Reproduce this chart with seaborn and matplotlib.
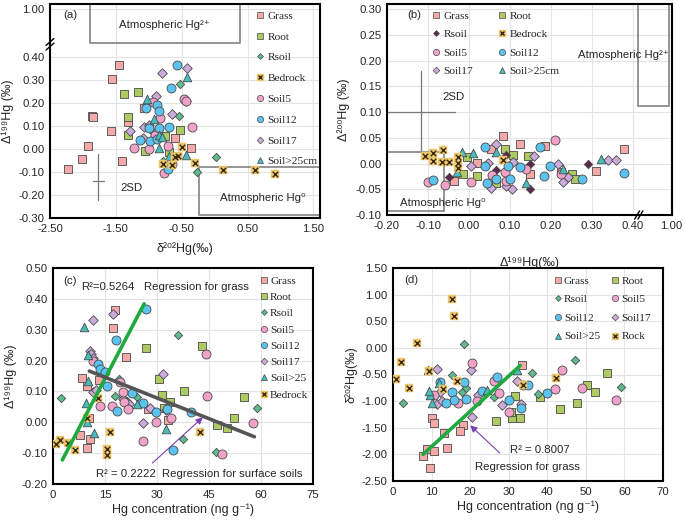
import numpy as np
import pandas as pd
import matplotlib
matplotlib.use("Agg")
import matplotlib.pyplot as plt
import seaborn as sns
from matplotlib.lines import Line2D

# ---------------- data ----------------
# Panel (a): delta202Hg (x) vs Delta199Hg (y)
a_grass_x = [-1.445, -1.555, -1.857, -1.84, -1.58, -1.31, -1.078, -1.92, -2.01, -2.23, -1.40, -0.60, -0.36]
a_grass_y = [0.367, 0.304, 0.143, 0.137, 0.079, 0.117, 0.179, 0.014, -0.043, -0.086, -0.054, 0.046, 0.003]
a_root_x = [-1.37, -1.158, -1.32, -1.314, -1.063, -0.525, -0.75, -0.70]
a_root_y = [0.241, 0.249, 0.139, 0.060, -0.010, 0.081, 0.057, -0.014]
a_rsoil_x = [-0.525, -0.545, -0.79, 0.023, -0.264, -0.95, -0.86]
a_rsoil_y = [0.283, 0.143, -0.054, -0.033, -0.099, 0.080, 0.070]
a_soil5_x = [-0.465, -0.34, -1.22, -0.99, -0.776, -0.64, -0.71, -0.83, -0.93, -0.90, -0.44]
a_soil5_y = [0.219, 0.096, 0.003, -0.001, -0.103, -0.064, 0.014, 0.133, 0.203, 0.060, 0.210]
a_soil12_x = [-0.575, -0.66, -0.88, -0.85, -1.04, -0.84, -0.70, -0.98, -1.13, -0.88, -0.71, -0.99]
a_soil12_y = [0.367, 0.267, 0.189, 0.164, 0.176, 0.090, 0.094, 0.033, 0.040, 0.043, -0.089, 0.089]
a_soil17_x = [-0.425, -0.80, -0.887, -0.435, -0.65, -1.29, -1.08, -1.09, -1.00]
a_soil17_y = [0.350, 0.329, 0.229, 0.210, 0.154, 0.079, 0.097, 0.046, 0.103]
a_soil25_x = [-0.425, -1.03, -0.92, -0.85, -0.80, -0.84, -0.69, -0.43]
a_soil25_y = [0.311, 0.217, 0.131, 0.060, 0.054, 0.006, -0.031, -0.026]
a_bed_x = [-0.49, -0.60, -0.79, -0.294, 0.12, 0.62, 0.92, -0.55, -0.64]
a_bed_y = [0.010, -0.033, -0.067, -0.060, -0.092, -0.090, -0.110, -0.031, -0.071]

# Panel (b): Delta199Hg (x) vs Delta200Hg (y)
b_grass_x = [0.083, 0.124, 0.053, 0.186, 0.019, -0.036, 0.148, 0.31, 0.377, 0.225]
b_grass_y = [0.054, 0.038, 0.029, 0.035, 0.002, -0.033, -0.020, -0.014, 0.028, -0.016]
b_root_x = [0.087, 0.108, 0.144, -0.004, -0.014, 0.019, 0.067, 0.25, 0.258]
b_root_y = [0.029, 0.017, 0.015, 0.012, -0.020, -0.025, -0.037, -0.020, -0.030]
b_rsoil_x = [-0.05, 0.089, 0.148, 0.148, 0.29, 0.067]
b_rsoil_y = [-0.027, 0.017, -0.001, -0.050, -0.001, -0.012]
b_bed_x = [-0.108, -0.087, -0.064, -0.087, -0.066, -0.05, -0.028, -0.028, -0.026, 0.083]
b_bed_y = [0.0156, 0.020, 0.027, 0.004, 0.003, 0.003, 0.012, 0.002, -0.008, 0.006]
b_soil5_x = [-0.10, -0.058, 0.006, 0.057, 0.09, 0.209, 0.225, 0.138, 0.087]
b_soil5_y = [-0.035, -0.041, -0.035, -0.022, -0.034, 0.045, -0.020, -0.010, -0.016]
b_soil12_x = [-0.087, 0.039, 0.039, 0.043, 0.067, 0.10, 0.124, 0.172, 0.198, 0.183, 0.275, 0.377, 0.096]
b_soil12_y = [-0.032, 0.033, -0.005, -0.038, -0.030, -0.030, -0.006, 0.033, -0.004, -0.024, -0.030, -0.019, -0.005]
b_soil17_x = [0.067, 0.108, 0.159, 0.217, 0.229, 0.241, 0.339, 0.359, 0.053, 0.104, 0.091, 0.006, 0.047]
b_soil17_y = [0.038, 0.003, 0.015, -0.001, -0.035, -0.027, 0.006, 0.007, -0.048, -0.050, -0.043, -0.005, 0.002]
b_soil25_x = [-0.018, 0.010, -0.030, 0.067, 0.14, 0.23, 0.322]
b_soil25_y = [0.023, 0.020, -0.016, 0.023, -0.037, -0.011, 0.008]

# Panel (c): Hg concentration (x) vs Delta199Hg (y)
c_grass_x = [17.9, 17.2, 8.5, 9.9, 13.4, 21.1, 10.5, 7.7, 10.6, 9.9, 27.4, 33.2]
c_grass_y = [0.365, 0.304, 0.142, 0.118, 0.137, 0.210, 0.013, -0.041, -0.054, -0.084, 0.043, 0.008]
c_root_x = [26.7, 43.1, 30.7, 31.3, 37.8, 33.7, 55.2, 52.3, 50.3, 47.4, 31.9]
c_root_y = [0.241, 0.248, 0.140, 0.088, 0.101, 0.067, 0.083, 0.015, -0.017, -0.009, 0.047]
c_rsoil_x = [2.4, 36.0, 18.9, 17.9, 21.3, 24.2, 37.6, 47.0, 58.9, 20.3]
c_rsoil_y = [0.080, 0.282, 0.140, 0.085, 0.069, 0.083, -0.054, -0.095, 0.045, 0.078]
c_soil5_x = [44.0, 19.4, 20.5, 13.7, 16.9, 21.6, 20.3, 26.1, 29.8, 33.9, 44.5, 48.8, 57.8, 11.6]
c_soil5_y = [0.220, 0.132, 0.067, 0.054, 0.054, 0.043, 0.097, -0.062, 0.002, 0.013, 0.086, -0.103, -0.001, 0.198]
c_soil12_x = [26.8, 18.2, 13.1, 13.6, 15.1, 15.7, 18.6, 22.9, 26.1, 29.8, 32.9, 39.7, 34.7]
c_soil12_y = [0.366, 0.266, 0.188, 0.174, 0.164, 0.117, 0.038, 0.096, 0.062, 0.032, 0.043, 0.034, -0.089]
c_soil17_x = [11.6, 17.4, 10.6, 11.1, 11.4, 11.4, 12.3, 20.1, 21.8, 31.8, 25.9, 28.1, 32.6]
c_soil17_y = [0.330, 0.350, 0.230, 0.222, 0.207, 0.097, 0.104, 0.075, 0.059, 0.155, -0.003, 0.045, 0.040]
c_soil25_x = [8.9, 10.1, 10.1, 9.5, 9.9, 11.8, 24.2, 32.5]
c_soil25_y = [0.309, 0.218, 0.134, 0.064, 0.002, -0.036, 0.059, -0.022]
c_bed_x = [0.8, 1.9, 4.4, 6.3, 9.7, 13.1, 16.5, 15.7, 15.5, 42.4]
c_bed_y = [-0.071, -0.057, -0.068, -0.089, 0.013, 0.080, -0.032, -0.087, -0.106, -0.032]
c_reg_grass_x = [2.7, 26.3]
c_reg_grass_y = [-0.122, 0.384]
c_reg_soil_x = [10.5, 58.1]
c_reg_soil_y = [0.166, -0.047]

# Panel (d): Hg concentration (x) vs delta202Hg (y)
d_grass_x = [33.5, 18.2, 17.3, 13.3, 13.9, 8.7, 10.6, 7.8, 9.7, 10.1, 10.7]
d_grass_y = [-0.325, -1.44, -1.56, -1.59, -1.875, -1.89, -1.93, -2.03, -2.26, -1.31, -1.41]
d_root_x = [26.7, 30.8, 32.8, 31.5, 38.1, 43.3, 47.7, 50.4, 52.4, 55.5, 30.5]
d_root_y = [-1.37, -1.31, -1.31, -0.90, -0.92, -1.15, -1.04, -0.70, -0.825, -0.48, -1.20]
d_rsoil_x = [2.6, 18.5, 15.3, 26.3, 36.1, 37.7, 47.2, 59.0, 18.0, 18.9]
d_rsoil_y = [-1.03, 0.08, -0.50, -0.92, -0.48, -0.86, -0.22, -0.73, -0.825, -0.76]
d_soil5_x = [20.6, 43.8, 49.1, 57.9, 42.0, 26.2, 27.5, 30.2, 21.7, 16.8, 33.6, 10.7]
d_soil5_y = [-0.275, -0.42, -0.75, -0.98, -0.78, -0.625, -0.84, -1.20, -0.99, -1.03, -0.69, -0.89]
d_soil12_x = [18.4, 26.9, 35.1, 39.9, 30.2, 33.1, 15.2, 15.9, 18.9, 13.7, 23.2, 12.1]
d_soil12_y = [-0.64, -0.54, -0.69, -0.84, -0.97, -1.12, -0.825, -0.97, -0.96, -1.03, -0.81, -0.64]
d_soil17_x = [11.5, 20.2, 20.4, 32.1, 28.3, 33.2, 11.5, 12.6, 12.1, 22.1]
d_soil17_y = [-0.40, -0.41, -1.29, -0.625, -1.075, -1.06, -1.06, -0.99, -0.825, -0.89]
d_soil25_x = [9.1, 9.5, 10.0, 12.0, 24.3, 32.1, 9.4]
d_soil25_y = [-0.42, -0.89, -1.03, -0.66, -0.79, -0.42, -0.81]
d_rock_x = [15.4, 15.9, 6.3, 2.0, 0.7, 4.2, 9.4, 16.5, 13.0, 42.3, 33.6]
d_rock_y = [0.91, 0.60, 0.10, -0.26, -0.59, -0.76, -0.44, -0.625, -0.78, -0.56, -0.70]
d_reg_x = [7.8, 33.0]
d_reg_y = [-2.0, -0.33]

# ---------------- style ----------------
sns.set_style("white")
plt.rcParams['font.family'] = ['Liberation Sans', 'DejaVu Sans']
plt.rcParams['axes.linewidth'] = 1.5
plt.rcParams['xtick.labelsize'] = 8.2
plt.rcParams['ytick.labelsize'] = 8.2

C = dict(grass='#F4A9A8', root='#AECB63', rsoil='#5DBB8E', rsoil_b='#5A2A4E',
         bed='#EDC56A', soil5='#F2A1C8', soil12='#5BC3EF', soil17='#CDABDD', soil25='#47BDBE')
EDGE = '#4a4a4a'
MK = dict(grass=('s', 30), root=('s', 30), rsoil=('D', 18), soil5=('o', 42),
          soil12=('o', 42), soil17=('D', 24), soil25=('^', 38))
LBL = 9
TXT = 8.2

W, H = 685, 521
fig = plt.figure(figsize=(W / 100, H / 100), dpi=100)


def axes_px(l, t, r, b):
    return fig.add_axes([l / W, 1 - b / H, (r - l) / W, (b - t) / H])


def pts(ax, x, y, key, color=None):
    m, s = MK[key]
    sns.scatterplot(x=x, y=y, marker=m, s=s, color=color or C[key], edgecolor=EDGE,
                    linewidth=0.6, ax=ax, legend=False, zorder=3)


def bed(ax, x, y):
    sns.scatterplot(x=x, y=y, marker='s', s=32, color=C['bed'], edgecolor=C['bed'],
                    linewidth=0.3, ax=ax, legend=False, zorder=3)
    sns.scatterplot(x=x, y=y, marker='x', s=16, color='#3a2a10', linewidth=1.0,
                    ax=ax, legend=False, zorder=4)


def handle(key, color=None):
    m, s = MK[key]
    return Line2D([], [], ls='', marker=m, markersize=np.sqrt(s) * 0.7,
                  markerfacecolor=color or C[key], markeredgecolor=EDGE, markeredgewidth=0.5)


def bed_handle():
    h1 = Line2D([], [], ls='', marker='s', markersize=4.5, markerfacecolor=C['bed'], markeredgecolor=C['bed'])
    h2 = Line2D([], [], ls='', marker='x', markersize=3.5, markeredgecolor='#3a2a10', markeredgewidth=1.0)
    return (h1, h2)


def style_ax(ax):
    ax.grid(True, color='#e4e4e4', linewidth=0.8)
    ax.set_axisbelow(True)
    for s in ax.spines.values():
        s.set_color('black')
        s.set_linewidth(1.5)
    ax.tick_params(length=0, pad=4)


LFONT = dict(family='Liberation Serif', size=8.2)
BOXC = '#8c8c8c'

# ---------------- panel (a) ----------------
ax = axes_px(50, 4, 320, 218)
style_ax(ax)
pts(ax, a_grass_x, a_grass_y, 'grass')
pts(ax, a_root_x, a_root_y, 'root')
pts(ax, a_rsoil_x, a_rsoil_y, 'rsoil')
pts(ax, a_soil17_x, a_soil17_y, 'soil17')
pts(ax, a_soil5_x, a_soil5_y, 'soil5')
pts(ax, a_soil12_x, a_soil12_y, 'soil12')
pts(ax, a_soil25_x, a_soil25_y, 'soil25')
bed(ax, a_bed_x, a_bed_y)
ax.set_xlim(-2.5, 1.6)
ax.set_ylim(-0.30, 0.63)
ax.set_xticks([-2.5, -1.5, -0.5, 0.5, 1.5])
ax.set_xticklabels(['-2.50', '-1.50', '-0.50', '0.50', '1.50'])
yt = [-0.3, -0.2, -0.1, 0.0, 0.1, 0.2, 0.3, 0.4, 0.607]
ax.set_yticks(yt)
ax.set_yticklabels(['-0.30', '-0.20', '-0.10', '0.00', '0.10', '0.20', '0.30', '0.40', '1.00'])
ax.set_xlabel('δ²⁰²Hg(‰)', fontsize=LBL, labelpad=6)
ax.set_ylabel('Δ¹⁹⁹Hg (‰)', fontsize=LBL, labelpad=3)
ax.plot([-1.9, -1.9, 0.38, 0.38], [0.66, 0.46, 0.46, 0.66], color=BOXC, lw=1.3, clip_on=True)
ax.text(-0.76, 0.537, 'Atmospheric Hg²⁺', ha='center', va='center', fontsize=TXT)
ax.plot([1.6, -0.24, -0.24, 1.6], [-0.077, -0.077, -0.288, -0.288], color=BOXC, lw=1.3)
ax.text(0.73, -0.215, 'Atmospheric Hg⁰', ha='center', va='center', fontsize=TXT)
ax.plot([-1.77, -1.77], [-0.02, -0.22], color='#777777', lw=0.9)
ax.plot([-1.85, -1.68], [-0.14, -0.14], color='#777777', lw=0.9)
ax.text(-1.26, -0.17, '2SD', ha='center', va='center', fontsize=TXT)
ax.text(0.05, 0.97, '(a)', transform=ax.transAxes, ha='left', va='top', fontsize=TXT)
for dy in (0.0, 0.02):
    ax.plot([-2.56, -2.44], [0.43 + dy, 0.46 + dy], color='black', lw=1.0, clip_on=False)
hs = [handle('grass'), handle('root'), handle('rsoil'), bed_handle(), handle('soil5'),
      handle('soil12'), handle('soil17'), handle('soil25')]
labs = ['Grass', 'Root', 'Rsoil', 'Bedrock', 'Soil5', 'Soil12', 'Soil17', 'Soil>25cm']
ax.legend(hs, labs, loc='upper left', bbox_to_anchor=(0.735, 1.005), frameon=False,
          prop=LFONT, handlelength=0.7, handletextpad=0.25, labelspacing=0.95, borderpad=0.2)

# ---------------- panel (b) ----------------
ax = axes_px(387, 4, 672, 215)
style_ax(ax)
pts(ax, b_grass_x, b_grass_y, 'grass')
pts(ax, b_root_x, b_root_y, 'root')
pts(ax, b_rsoil_x, b_rsoil_y, 'rsoil', color=C['rsoil_b'])
pts(ax, b_soil17_x, b_soil17_y, 'soil17')
pts(ax, b_soil5_x, b_soil5_y, 'soil5')
pts(ax, b_soil12_x, b_soil12_y, 'soil12')
pts(ax, b_soil25_x, b_soil25_y, 'soil25')
bed(ax, b_bed_x, b_bed_y)
ax.set_xlim(-0.2, 0.495)
ax.set_ylim(-0.10, 0.31)
ax.set_xticks([-0.2, -0.1, 0.0, 0.1, 0.2, 0.3, 0.4, 0.492])
ax.set_xticklabels(['-0.20', '-0.10', '0.00', '0.10', '0.20', '0.30', '0.40', '1.00'])
ax.set_yticks([-0.1, -0.05, 0, 0.05, 0.1, 0.15, 0.2, 0.25, 0.3])
ax.set_yticklabels(['-0.10', '-0.05', '0.00', '0.05', '0.10', '0.15', '0.20', '0.25', '0.30'])
ax.set_xlabel('Δ¹⁹⁹Hg(‰)', fontsize=LBL, labelpad=19)
ax.set_ylabel('Δ²⁰⁰Hg (‰)', fontsize=LBL, labelpad=4)
ax.plot([0.412, 0.412, 0.488, 0.488, 0.412], [0.32, 0.111, 0.111, 0.32, 0.32], color=BOXC, lw=1.3)
ax.text(0.487, 0.211, 'Atmospheric Hg²⁺', ha='right', va='center', fontsize=TXT)
ax.plot([-0.2, -0.062, -0.062], [0.022, 0.022, -0.093], color=BOXC, lw=1.3)
ax.plot([-0.2, -0.062], [-0.093, -0.093], color=BOXC, lw=1.3)
ax.text(-0.168, -0.077, 'Atmospheric Hg⁰', ha='left', va='center', fontsize=TXT)
ax.plot([-0.117, -0.117], [0.18, 0.022], color='#777777', lw=0.9)
ax.plot([-0.2, -0.034], [0.10, 0.10], color='#777777', lw=0.9)
ax.text(-0.038, 0.13, '2SD', ha='center', va='center', fontsize=TXT)
ax.text(0.07, 0.97, '(b)', transform=ax.transAxes, ha='left', va='top', fontsize=TXT)
for dx in (0.0, 0.008):
    ax.plot([0.404 + dx, 0.416 + dx], [-0.108, -0.092], color='black', lw=1.0, clip_on=False)
# column-major order so rows read Grass/Root, Rsoil/Bedrock, ...
hs = [handle('grass'), handle('rsoil', C['rsoil_b']), handle('soil5'), handle('soil17'),
      handle('root'), bed_handle(), handle('soil12'), handle('soil25')]
labs = ['Grass', 'Rsoil', 'Soil5', 'Soil17', 'Root', 'Bedrock', 'Soil12', 'Soil>25cm']
ax.legend(hs, labs, ncol=2, loc='upper left', bbox_to_anchor=(0.13, 1.005), frameon=False,
          prop=LFONT, handlelength=0.7, handletextpad=0.3, labelspacing=0.75,
          columnspacing=2.2, borderpad=0.2)

# ---------------- panel (c) ----------------
ax = axes_px(53, 268, 313, 484)
style_ax(ax)
pts(ax, c_grass_x, c_grass_y, 'grass')
pts(ax, c_root_x, c_root_y, 'root')
pts(ax, c_rsoil_x, c_rsoil_y, 'rsoil')
pts(ax, c_soil17_x, c_soil17_y, 'soil17')
pts(ax, c_soil5_x, c_soil5_y, 'soil5')
pts(ax, c_soil12_x, c_soil12_y, 'soil12')
pts(ax, c_soil25_x, c_soil25_y, 'soil25')
bed(ax, c_bed_x, c_bed_y)
sns.lineplot(x=c_reg_grass_x, y=c_reg_grass_y, color='#1FAA3F', lw=2.6, ax=ax, zorder=5)
sns.lineplot(x=c_reg_soil_x, y=c_reg_soil_y, color='#555555', lw=2.6, ax=ax, zorder=5)
ax.annotate('', xy=(43.8, 0.022), xytext=(28.1, -0.138),
            arrowprops=dict(arrowstyle='-|>', color='#7B3FB5', lw=0.8, mutation_scale=10), zorder=6)
ax.set_xlim(0, 75)
ax.set_ylim(-0.2, 0.5)
ax.set_xticks([0, 15, 30, 45, 60, 75])
ax.set_yticks(np.arange(-0.2, 0.51, 0.1))
ax.set_yticklabels(['-0.20', '-0.10', '0.00', '0.10', '0.20', '0.30', '0.40', '0.50'])
ax.set_xlabel('Hg concentration (ng g⁻¹)', fontsize=LBL, labelpad=3)
ax.set_ylabel('Δ¹⁹⁹Hg (‰)', fontsize=LBL, labelpad=3)
ax.text(8.2, 0.44, 'R²=0.5264', ha='left', va='center', fontsize=TXT)
ax.text(26.3, 0.44, 'Regression for grass', ha='left', va='center', fontsize=TXT)
ax.text(12.4, -0.168, 'R² = 0.2222', ha='left', va='center', fontsize=TXT)
ax.text(31.3, -0.168, 'Regression for surface soils', ha='left', va='center', fontsize=TXT)
ax.text(0.04, 0.965, '(c)', transform=ax.transAxes, ha='left', va='top', fontsize=TXT)
hs = [handle('grass'), handle('root'), handle('rsoil'), handle('soil5'), handle('soil12'),
      handle('soil17'), handle('soil25'), bed_handle()]
labs = ['Grass', 'Root', 'Rsoil', 'Soil5', 'Soil12', 'Soil17', 'Soil>25', 'Bedrock']
ax.legend(hs, labs, loc='upper left', bbox_to_anchor=(0.765, 1.0), frameon=False,
          prop=LFONT, handlelength=0.7, handletextpad=0.2, labelspacing=0.55, borderpad=0.2)

# ---------------- panel (d) ----------------
ax = axes_px(393, 268, 663, 481)
style_ax(ax)
pts(ax, d_grass_x, d_grass_y, 'grass')
pts(ax, d_root_x, d_root_y, 'root')
pts(ax, d_rsoil_x, d_rsoil_y, 'rsoil')
pts(ax, d_soil17_x, d_soil17_y, 'soil17')
pts(ax, d_soil5_x, d_soil5_y, 'soil5')
pts(ax, d_soil12_x, d_soil12_y, 'soil12')
pts(ax, d_soil25_x, d_soil25_y, 'soil25')
bed(ax, d_rock_x, d_rock_y)
sns.lineplot(x=d_reg_x, y=d_reg_y, color='#1FAA3F', lw=2.6, ax=ax, zorder=5)
ax.annotate('', xy=(19.5, -1.42), xytext=(28.2, -2.01),
            arrowprops=dict(arrowstyle='-|>', color='#7B3FB5', lw=0.8, mutation_scale=10), zorder=6)
ax.set_xlim(0, 70)
ax.set_ylim(-2.5, 1.5)
ax.set_xticks([0, 10, 20, 30, 40, 50, 60, 70])
ax.set_yticks(np.arange(-2.5, 1.51, 0.5))
ax.set_yticklabels(['-2.50', '-2.00', '-1.50', '-1.00', '-0.50', '0.00', '0.50', '1.00', '1.50'])
ax.set_xlabel('Hg concentration (ng g⁻¹)', fontsize=LBL, labelpad=3)
ax.set_ylabel('δ²⁰²Hg(‰)', fontsize=LBL, labelpad=3)
ax.text(30.3, -1.91, 'R² = 0.8007', ha='left', va='center', fontsize=TXT)
ax.text(21.2, -2.24, 'Regression for grass', ha='left', va='center', fontsize=TXT)
ax.text(0.04, 0.965, '(d)', transform=ax.transAxes, ha='left', va='top', fontsize=TXT)
hs = [handle('grass'), handle('rsoil'), handle('soil12'), handle('soil25'),
      handle('root'), handle('soil5'), handle('soil17'), bed_handle()]
labs = ['Grass', 'Rsoil', 'Soil12', 'Soil>25', 'Root', 'Soil5', 'Soil17', 'Rock']
ax.legend(hs, labs, ncol=2, loc='upper left', bbox_to_anchor=(0.565, 1.0), frameon=False,
          prop=LFONT, handlelength=0.7, handletextpad=0.2, labelspacing=0.75,
          columnspacing=1.0, borderpad=0.2)

fig.savefig('out.png', dpi=100)
